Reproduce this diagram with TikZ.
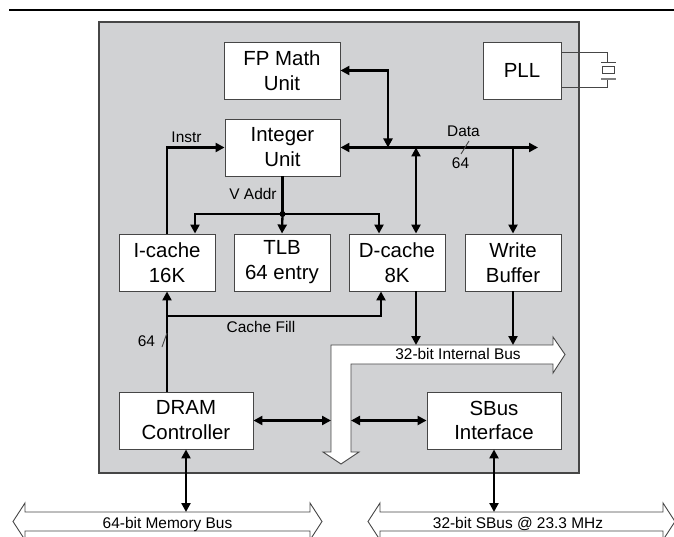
\documentclass[tikz,border=0pt]{standalone}
\usepackage{fontspec}
\setmainfont{Liberation Sans}
\usetikzlibrary{arrows.meta,calc}
\definecolor{panelgray}{RGB}{209,210,212}
\definecolor{edgegray}{RGB}{70,70,70}
\begin{document}
\begin{tikzpicture}[x=1bp,y=-1bp,
  >={Triangle[length=9bp,width=9bp]},
  blk/.style={draw=edgegray,fill=white,line width=0.9bp,inner sep=0pt,align=center,
    font=\fontsize{20.5}{25}\selectfont},
  lbl/.style={font=\fontsize{15.5}{18}\selectfont,anchor=base,inner sep=0pt},
  wire/.style={line width=2.3bp,draw=black},
  thinline/.style={line width=0.9bp,draw=edgegray},
  busshape/.style={draw=edgegray,fill=white,line width=0.9bp,line join=miter}]
\useasboundingbox (0,0) rectangle (674,537);
% top rule and panel
\draw[line width=2.5bp] (9,10) -- (674,10);
\draw[fill=panelgray,draw=edgegray,line width=2bp] (99,22) rectangle (579,473);

% blocks
\node[blk,minimum width=116bp,minimum height=57bp] (fp) at (282,70.5) {FP Math\\Unit};
\node[blk,minimum width=115bp,minimum height=57bp] (int) at (282.5,147.5) {Integer\\Unit};
\node[blk,minimum width=78bp,minimum height=57bp] (pll) at (522,70.5) {PLL};
\node[blk,minimum width=96bp,minimum height=57bp] (icache) at (167,262.5) {I-cache\\16K};
\node[blk,minimum width=96bp,minimum height=57bp] (tlb) at (282,262.5) {TLB\\64 entry};
\node[blk,minimum width=96bp,minimum height=57bp] (dcache) at (397,262.5) {D-cache\\8K};
\node[blk,minimum width=96bp,minimum height=57bp] (wb) at (513,262.5) {Write\\Buffer};
\node[blk,minimum width=134bp,minimum height=57bp] (dram) at (186,420.5) {DRAM\\Controller};
\node[blk,minimum width=134bp,minimum height=57bp] (sbus) at (494,420.5) {SBus\\Interface};

% PLL crystal
\coordinate (xt) at (607,62.5);
\coordinate (xb) at (607,79);
\draw[thinline] ($(pll.north east)+(0,11)$) -| (xt);
\draw[thinline] ($(pll.south east)+(0,-12)$) -| (xb);
\draw[line width=1.3bp,draw=edgegray] (601,62.5) -- (616,62.5);
\draw[line width=1bp,draw=edgegray] (602.5,67) rectangle (614.5,74);
\draw[line width=2bp,draw=gray] (601,79) -- (616,79);

% internal bus (hollow L arrow)
\draw[busshape] (331,452) -- (331,345) -- (553,345) -- (553,337) -- (565,354.5)
  -- (553,373) -- (553,364) -- (351,364) -- (351,452) -- (359,452) -- (341,464)
  -- (323,452) -- cycle;
\node[lbl] (iblabel) at (458,359) {32-bit Internal Bus};

% external buses
\draw[busshape] (13,521.5) -- (25,503) -- (25,512) -- (310,512) -- (310,503)
  -- (322,521.5) -- (310,540) -- (310,531) -- (25,531) -- (25,540) -- cycle;
\node[lbl] (mblabel) at (167.5,528) {64-bit Memory Bus};
\draw[busshape] (368,521.5) -- (380,503) -- (380,512) -- (663,512) -- (663,503)
  -- (675,521.5) -- (663,540) -- (663,531) -- (380,531) -- (380,540) -- cycle;
\node[lbl] (sblabel) at (518,528) {32-bit SBus @ 23.3 MHz};

% data bus
\coordinate (fpj) at (388,147.5);
\coordinate (dataend) at (538,147.5);
\coordinate (dj) at (416,147.5);
\coordinate (wj) at (wb.north |- int.east);
\draw[wire,<->] (fp.east) -| (fpj);
\draw[wire,<->] (int.east) -- (dataend);
\draw[wire,<->] (dj) -- (dj |- dcache.north);
\draw[wire,->] (wj) -- (wb.north);
\draw[thinline] (469,141) -- (461,154);
\node[lbl] (datalbl) at (463.5,137) {Data};
\node[lbl] (data64) at (460.5,169) {64};

% instruction path
\draw[wire,->] (icache.north) |- (int.west);
\node[lbl] (instr) at (186.5,143) {Instr};

% virtual address
\coordinate (vj) at (282.5,214);
\coordinate (va1) at (195,214);
\coordinate (va2) at (379,214);
\draw[wire] (int.south) -- (vj);
\draw[wire,<->] (va1 |- icache.north) -- (va1) -- (va2) -- (va2 |- dcache.north);
\draw[wire,->] (vj) -- (tlb.north);
\fill (vj) circle (3bp);
\node[lbl] (vaddr) at (253,200) {V Addr};

% cache fill
\coordinate (cf1) at (167,316);
\coordinate (cf2) at (381,316);
\draw[wire,->] (icache.south |- dram.north) -- (icache.south);
\draw[wire,->] (cf1) -- (cf2) -- (cf2 |- dcache.south);
\node[lbl] (cfill) at (261,332) {Cache Fill};
\draw[thinline] (167,333) -- (162,347);
\node[lbl] (fill64) at (146.5,346) {64};

% to internal bus
\coordinate (ibtop) at (0,345);
\draw[wire,->] (dj |- dcache.south) -- (dj |- ibtop);
\draw[wire,->] (wb.south) -- (wb.south |- ibtop);
\coordinate (ibl) at (331,420.5);
\coordinate (ibr) at (351,420.5);
\draw[wire,<->] (dram.east) -- (ibl);
\draw[wire,<->] (ibr) -- (sbus.west);

% to external buses
\coordinate (mb) at (0,512);
\draw[wire,<->] (dram.south) -- (dram.south |- mb);
\draw[wire,<->] (sbus.south) -- (sbus.south |- mb);
\end{tikzpicture}
\end{document}
